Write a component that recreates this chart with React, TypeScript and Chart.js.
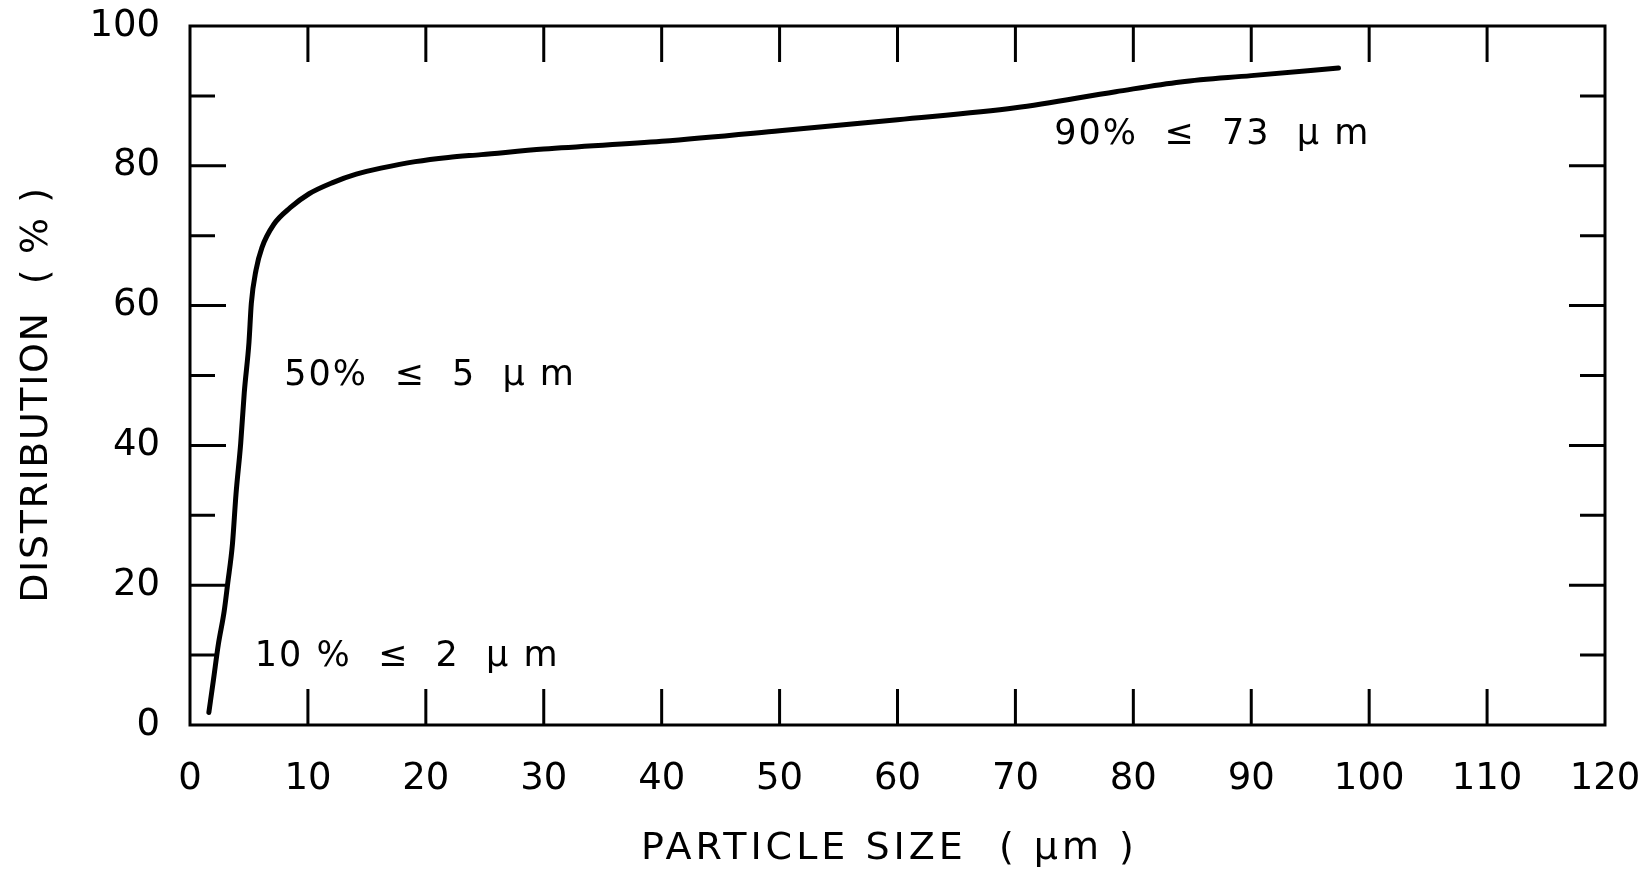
import { useEffect, useRef } from "react";
import { Chart, registerables } from "chart.js";

Chart.register(...registerables);

// Particle size (µm)
const particleSize = [
  1.6, 2.0, 2.4, 2.9, 3.2, 3.6, 3.9, 4.3, 4.6, 5.0, 5.2, 5.6, 6.1, 7.1, 8.5,
  10.1, 12.1, 14.1, 16.3, 19.1, 21.9, 24.7, 30, 40, 50, 60, 70, 78.5, 84, 90, 97.4,
];
// Cumulative distribution (%)
const distribution = [
  1.8, 6.6, 11.5, 16.3, 20.3, 25.9, 33, 40.3, 47.5, 54.7, 60.3, 65.1, 68.3, 71.6, 74,
  76, 77.6, 78.8, 79.7, 80.6, 81.2, 81.6, 82.4, 83.5, 85.0, 86.6, 88.3, 90.6, 92.0, 92.9, 94.0,
];

const xTickLabels = ["0", "10", "20", "30", "40", "50", "60", "70", "80", "90", "100", "110", "120"];
const yTickLabels = ["0", "20", "40", "60", "80", "100"];

const xTitle = "PARTICLE SIZE  ( µm )";
const yTitle = "DISTRIBUTION  ( % )";

const annotationTexts = ["10 %  ≤  2  µ m", "50%  ≤  5  µ m", "90%  ≤  73  µ m"];
const annotationX = [5.5, 8.0, 73.3];
const annotationY = [9.7, 49.9, 84.4];

const FONT = "'DejaVu Sans', sans-serif";

const framePlugin = {
  id: "frameTicks",
  afterDraw(chart: any) {
    const { ctx, chartArea: a, scales } = chart;
    const xs = scales.x;
    const ys = scales.y;
    ctx.save();
    ctx.strokeStyle = "#000";
    ctx.lineWidth = 3;
    ctx.lineCap = "butt";
    ctx.strokeRect(a.left, a.top, a.right - a.left, a.bottom - a.top);
    ctx.beginPath();
    xs.ticks.forEach((t: any) => {
      if (t.value <= xs.min || t.value >= xs.max) return;
      const px = xs.getPixelForValue(t.value);
      ctx.moveTo(px, a.bottom);
      ctx.lineTo(px, a.bottom - 36);
      ctx.moveTo(px, a.top);
      ctx.lineTo(px, a.top + 36);
    });
    ys.ticks.forEach((t: any) => {
      if (t.value <= ys.min || t.value >= ys.max) return;
      const py = ys.getPixelForValue(t.value);
      const len = t.value % 20 === 0 ? 36 : 25;
      ctx.moveTo(a.left, py);
      ctx.lineTo(a.left + len, py);
      ctx.moveTo(a.right, py);
      ctx.lineTo(a.right - len, py);
    });
    ctx.stroke();

    ctx.fillStyle = "#000";
    ctx.textBaseline = "middle";
    // annotations
    ctx.font = `35px ${FONT}`;
    (ctx as any).letterSpacing = "2px";
    ctx.textAlign = "left";
    annotationTexts.forEach((txt, i) => {
      ctx.fillText(txt, xs.getPixelForValue(annotationX[i]), ys.getPixelForValue(annotationY[i]));
    });

    // axis titles
    ctx.font = `38px ${FONT}`;
    (ctx as any).letterSpacing = "4px";
    ctx.textAlign = "center";
    ctx.fillText(xTitle, (a.left + a.right) / 2 - 8, 849);
    ctx.save();
    ctx.translate(37, (a.top + a.bottom) / 2 + 19);
    ctx.rotate(-Math.PI / 2);
    (ctx as any).letterSpacing = "1.6px";
    ctx.fillText(yTitle, 0, 0);
    ctx.restore();
    ctx.restore();
  },
};

export default function App() {
  const ref = useRef<HTMLCanvasElement>(null);
  useEffect(() => {
    if (!ref.current) return;
    Chart.defaults.font.family = FONT;
    const chart = new Chart(ref.current, {
      type: "line",
      data: {
        datasets: [
          {
            data: particleSize.map((x, i) => ({ x, y: distribution[i] })),
            borderColor: "#000",
            borderWidth: 5,
            borderCapStyle: "round",
            borderJoinStyle: "round",
            pointRadius: 0,
            cubicInterpolationMode: "monotone",
            fill: false,
          },
        ],
      },
      options: {
        animation: false,
        responsive: true,
        maintainAspectRatio: false,
        layout: { padding: { top: 26, right: 43, left: 0, bottom: 0 } },
        plugins: { legend: { display: false }, tooltip: { enabled: false } },
        scales: {
          x: {
            type: "linear",
            min: 0,
            max: 120,
            grid: { display: false, drawTicks: false },
            border: { display: false },
            ticks: {
              stepSize: 10,
              padding: 32,
              color: "#000",
              font: { size: 37 },
              maxRotation: 0,
              callback: (v: any) => xTickLabels[Math.round(Number(v) / 10)] ?? "",
            },
            afterFit: (s: any) => {
              s.height = 154;
              s.paddingLeft = 0;
              s.paddingRight = 0;
            },
          },
          y: {
            type: "linear",
            min: 0,
            max: 100,
            grid: { display: false, drawTicks: false },
            border: { display: false },
            ticks: {
              stepSize: 10,
              padding: 30,
              color: "#000",
              font: { size: 37 },
              callback: (v: any) => (Number(v) % 20 === 0 ? yTickLabels[Number(v) / 20] : ""),
            },
            afterFit: (s: any) => {
              s.width = 190;
              s.paddingTop = 0;
              s.paddingBottom = 0;
            },
          },
        },
      },
      plugins: [framePlugin],
    });
    return () => chart.destroy();
  }, []);
  return (
    <div style={{ position: "fixed", left: 0, top: 0, width: 1648, height: 879, background: "#fff" }}>
      <canvas ref={ref} />
    </div>
  );
}
